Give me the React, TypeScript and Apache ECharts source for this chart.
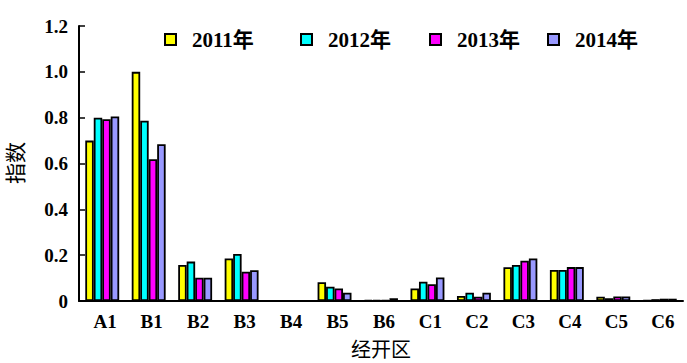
import React, { useEffect, useRef } from "react";
import * as echarts from "echarts";

const categories = ["A1", "B1", "B2", "B3", "B4", "B5", "B6", "C1", "C2", "C3", "C4", "C5", "C6"];
const seriesNames = ["2011年", "2012年", "2013年", "2014年"];
const s2011 = [0.70, 1.00, 0.157, 0.186, 0, 0.082, 0.004, 0.055, 0.022, 0.147, 0.135, 0.019, 0.003];
const s2012 = [0.80, 0.787, 0.172, 0.205, 0, 0.062, 0.004, 0.084, 0.036, 0.157, 0.135, 0.012, 0.008];
const s2013 = [0.793, 0.619, 0.102, 0.128, 0, 0.055, 0.004, 0.073, 0.019, 0.176, 0.148, 0.02, 0.01];
const s2014 = [0.805, 0.684, 0.102, 0.134, 0, 0.036, 0.012, 0.103, 0.036, 0.186, 0.148, 0.02, 0.01];
const colors = ["#FFFF00", "#00FFFF", "#FF00FF", "#9999FF"];
const legendLefts = [164, 300, 429, 547];

const SERIF = "'Liberation Serif', 'Times New Roman', 'Noto Sans CJK SC', serif";
const CJK = "'Noto Sans CJK SC', sans-serif";

export default function App() {
  const ref = useRef<HTMLDivElement>(null);
  useEffect(() => {
    if (!ref.current) return;
    const chart = echarts.init(ref.current, undefined, { renderer: "svg" });
    const data = [s2011, s2012, s2013, s2014];
    chart.setOption({
      animation: false,
      backgroundColor: "#ffffff",
      grid: { left: 79, right: 4, top: 26, bottom: 62, containLabel: false, outerBoundsMode: "none" },
      legend: seriesNames.map((n, i) => ({
        data: [n],
        left: legendLefts[i],
        top: 29,
        padding: 0,
        itemWidth: 11,
        itemHeight: 11,
        icon: "rect",
        textStyle: {
          fontFamily: SERIF,
          fontSize: 21,
          fontWeight: "bold",
          color: "#000",
          padding: [0, 0, 0, 11],
        },
      })),
      xAxis: {
        type: "category",
        data: categories,
        name: "经开区",
        nameLocation: "middle",
        nameGap: 37,
        nameTextStyle: { fontFamily: CJK, fontSize: 20, color: "#000" },
        axisLine: { lineStyle: { color: "#000", width: 2 } },
        axisTick: { inside: true, length: 6, lineStyle: { color: "#000", width: 1.5 } },
        axisLabel: {
          fontFamily: SERIF,
          fontSize: 19,
          fontWeight: "bold",
          color: "#000",
          margin: 11,
          padding: [0, 0, 0, 6],
        },
        splitLine: { show: false },
      },
      yAxis: {
        type: "value",
        min: 0,
        max: 1.2,
        interval: 0.2,
        axisLine: { show: true, lineStyle: { color: "#000", width: 2 } },
        axisTick: { show: true, inside: true, length: 6, lineStyle: { color: "#000", width: 1.5 } },
        axisLabel: {
          fontFamily: SERIF,
          fontSize: 19,
          fontWeight: "bold",
          color: "#000",
          margin: 11,
          formatter: (v: number) => (v === 0 ? "0" : v.toFixed(1)),
        },
        splitLine: { show: false },
      },
      graphic: [
        {
          type: "text",
          x: 14,
          y: 163,
          rotation: Math.PI / 2,
          style: {
            text: "指数",
            fontFamily: CJK,
            fontSize: 21,
            fill: "#000",
            align: "center",
            verticalAlign: "middle",
          },
        },
      ],
      series: seriesNames.map((n, i) => ({
        name: n,
        type: "bar",
        data: data[i],
        barGap: "0%",
        barCategoryGap: "27%",
        itemStyle: { color: colors[i], borderColor: "#000", borderWidth: 1.8 },
      })),
    });
    return () => chart.dispose();
  }, []);
  return <div ref={ref} style={{ width: 687, height: 363, position: "absolute", left: 0, top: 0 }} />;
}
